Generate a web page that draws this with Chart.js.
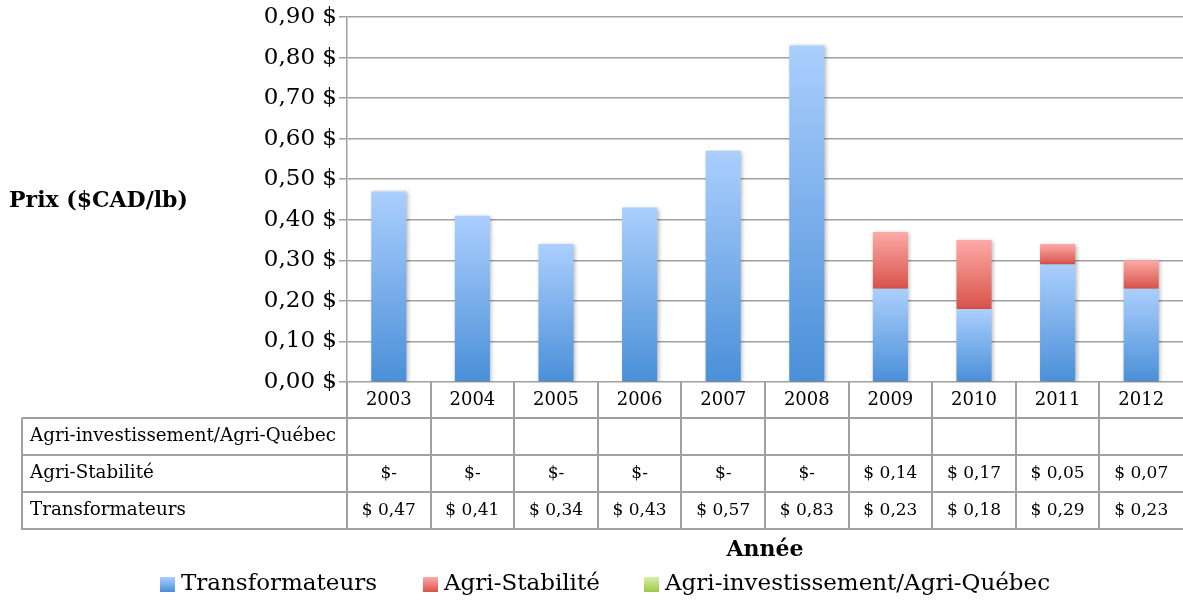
<!DOCTYPE html>
<html lang="fr">
<head>
<meta charset="utf-8">
<title>Prix ($CAD/lb)</title>
<script src="https://cdn.jsdelivr.net/npm/chart.js@4.4.1/dist/chart.umd.min.js"></script>
<style>
  html, body { margin: 0; padding: 0; background: #fff; }
</style>
</head>
<body>
<canvas id="prixChart" width="1183" height="600"></canvas>
<script>
const years = ['2003', '2004', '2005', '2006', '2007', '2008', '2009', '2010', '2011', '2012'];
const transformateurs = [0.47, 0.41, 0.34, 0.43, 0.57, 0.83, 0.23, 0.18, 0.29, 0.23];
const agriStabilite = [0, 0, 0, 0, 0, 0, 0.14, 0.17, 0.05, 0.07];
const agriInvestissement = [null, null, null, null, null, null, null, null, null, null];
const seriesNames = ['Transformateurs', 'Agri-Stabilité', 'Agri-investissement/Agri-Québec'];
const yTicks = [0, 0.1, 0.2, 0.3, 0.4, 0.5, 0.6, 0.7, 0.8, 0.9];

const SERIF = 'DejaVu Serif';
const GRID = '#a0a0a0';
const colours = {
  blue: ['#abcffd', '#4a8fd8'],
  red: ['#fdaaa7', '#d8524a'],
  green: ['#d8eea6', '#9cc84c']
};

function money(v) {
  return v.toFixed(2).replace('.', ',');
}

// vertical gradient per bar segment, light on top
function barGradient(pair, baseOf) {
  return ctx => {
    const chart = ctx.chart;
    const y = chart.scales.y;
    if (ctx.type !== 'data' || !y || y.bottom === undefined) return pair[1];
    const base = baseOf(ctx.dataIndex);
    const top = base + (ctx.raw || 0);
    const g = chart.ctx.createLinearGradient(0, y.getPixelForValue(top), 0, y.getPixelForValue(base));
    g.addColorStop(0, pair[0]);
    g.addColorStop(1, pair[1]);
    return g;
  };
}

const tablePlugin = {
  id: 'tablePlugin',
  beforeDatasetsDraw(chart) {
    const c = chart.ctx;
    c.save();
    c.shadowColor = 'rgba(0,0,0,0.28)';
    c.shadowBlur = 4;
    c.shadowOffsetX = 1.5;
    c.shadowOffsetY = 1;
  },
  afterDatasetsDraw(chart) {
    chart.ctx.restore();
  },
  afterDraw(chart) {
    const c = chart.ctx;
    const x = chart.scales.x;
    const area = chart.chartArea;
    const colW = (area.right - area.left) / years.length;
    const tableLeft = 22;
    const rowTops = [area.bottom, 418, 455, 492, 529];

    c.save();
    // y title
    c.fillStyle = '#000';
    c.font = 'bold 22px "' + SERIF + '"';
    c.textAlign = 'left';
    c.textBaseline = 'middle';
    c.fillText('Prix ($CAD/lb)', 9, 201);

    // table lines
    c.strokeStyle = GRID;
    c.lineWidth = 2;
    c.beginPath();
    for (let k = 1; k < rowTops.length; k++) {
      c.moveTo(tableLeft, rowTops[k]);
      c.lineTo(area.right, rowTops[k]);
    }
    c.moveTo(tableLeft, rowTops[1]);
    c.lineTo(tableLeft, rowTops[4] + 1);
    for (let i = 0; i < years.length; i++) {
      const bx = Math.round(area.left + i * colW);
      c.moveTo(bx, rowTops[0]);
      c.lineTo(bx, rowTops[4] + 1);
    }
    c.stroke();

    // table text
    c.textBaseline = 'middle';
    const mid = k => (rowTops[k] + rowTops[k + 1]) / 2;
    c.font = '18.3px "' + SERIF + '"';
    c.textAlign = 'left';
    c.fillText(seriesNames[2], 30, mid(1));
    c.fillText(seriesNames[1], 30, mid(2));
    c.fillText(seriesNames[0], 30, mid(3));
    c.textAlign = 'center';
    years.forEach((yr, i) => {
      const cx = x.getPixelForValue(i);
      c.font = '18px "' + SERIF + '"';
      c.fillText(yr, cx, mid(0));
      c.font = '17px "' + SERIF + '"';
      if (agriInvestissement[i] != null) c.fillText('$ ' + money(agriInvestissement[i]), cx, mid(1));
      c.fillText(agriStabilite[i] ? '$ ' + money(agriStabilite[i]) : '$-', cx, mid(2));
      c.fillText('$ ' + money(transformateurs[i]), cx, mid(3));
    });

    // legend
    const legendY = 584;
    const legendX = [160, 423, 644];
    const pairs = [colours.blue, colours.red, colours.green];
    c.font = '23px "' + SERIF + '"';
    c.textAlign = 'left';
    seriesNames.forEach((name, k) => {
      const g = c.createLinearGradient(0, legendY - 7, 0, legendY + 8);
      g.addColorStop(0, pairs[k][0]);
      g.addColorStop(1, pairs[k][1]);
      c.fillStyle = g;
      c.fillRect(legendX[k], legendY - 7, 15, 15);
      c.fillStyle = '#000';
      c.fillText(name, legendX[k] + 21, legendY);
    });
    c.restore();
  }
};

new Chart(document.getElementById('prixChart'), {
  type: 'bar',
  data: {
    labels: years,
    datasets: [
      {
        label: seriesNames[0],
        data: transformateurs,
        backgroundColor: barGradient(colours.blue, () => 0)
      },
      {
        label: seriesNames[1],
        data: agriStabilite,
        backgroundColor: barGradient(colours.red, i => transformateurs[i])
      },
      {
        label: seriesNames[2],
        data: agriInvestissement,
        backgroundColor: barGradient(colours.green, i => transformateurs[i] + agriStabilite[i])
      }
    ]
  },
  options: {
    responsive: false,
    animation: false,
    layout: { padding: { top: 17, right: 0, bottom: 37, left: 0 } },
    datasets: { bar: { categoryPercentage: 1, barPercentage: 0.42 } },
    plugins: {
      legend: { display: false },
      tooltip: { enabled: false }
    },
    scales: {
      x: {
        stacked: true,
        ticks: { display: false },
        grid: { display: false },
        border: { display: false },
        title: {
          display: true,
          text: 'Année',
          color: '#000',
          font: { family: SERIF, size: 22, weight: 'bold' },
          padding: { top: 0, bottom: 0 }
        },
        afterFit: s => { s.height = 181; }
      },
      y: {
        stacked: true,
        min: 0,
        max: 0.9,
        afterBuildTicks: s => { s.ticks = yTicks.map(v => ({ value: v })); },
        ticks: {
          padding: 2,
          color: '#000',
          font: { family: SERIF, size: 23 },
          callback: v => money(v) + ' $'
        },
        grid: { color: GRID, lineWidth: 1.5, tickLength: 8 },
        border: { color: GRID, width: 1.5 },
        afterFit: s => { s.width = 347; }
      }
    }
  },
  plugins: [tablePlugin]
});
</script>
</body>
</html>
